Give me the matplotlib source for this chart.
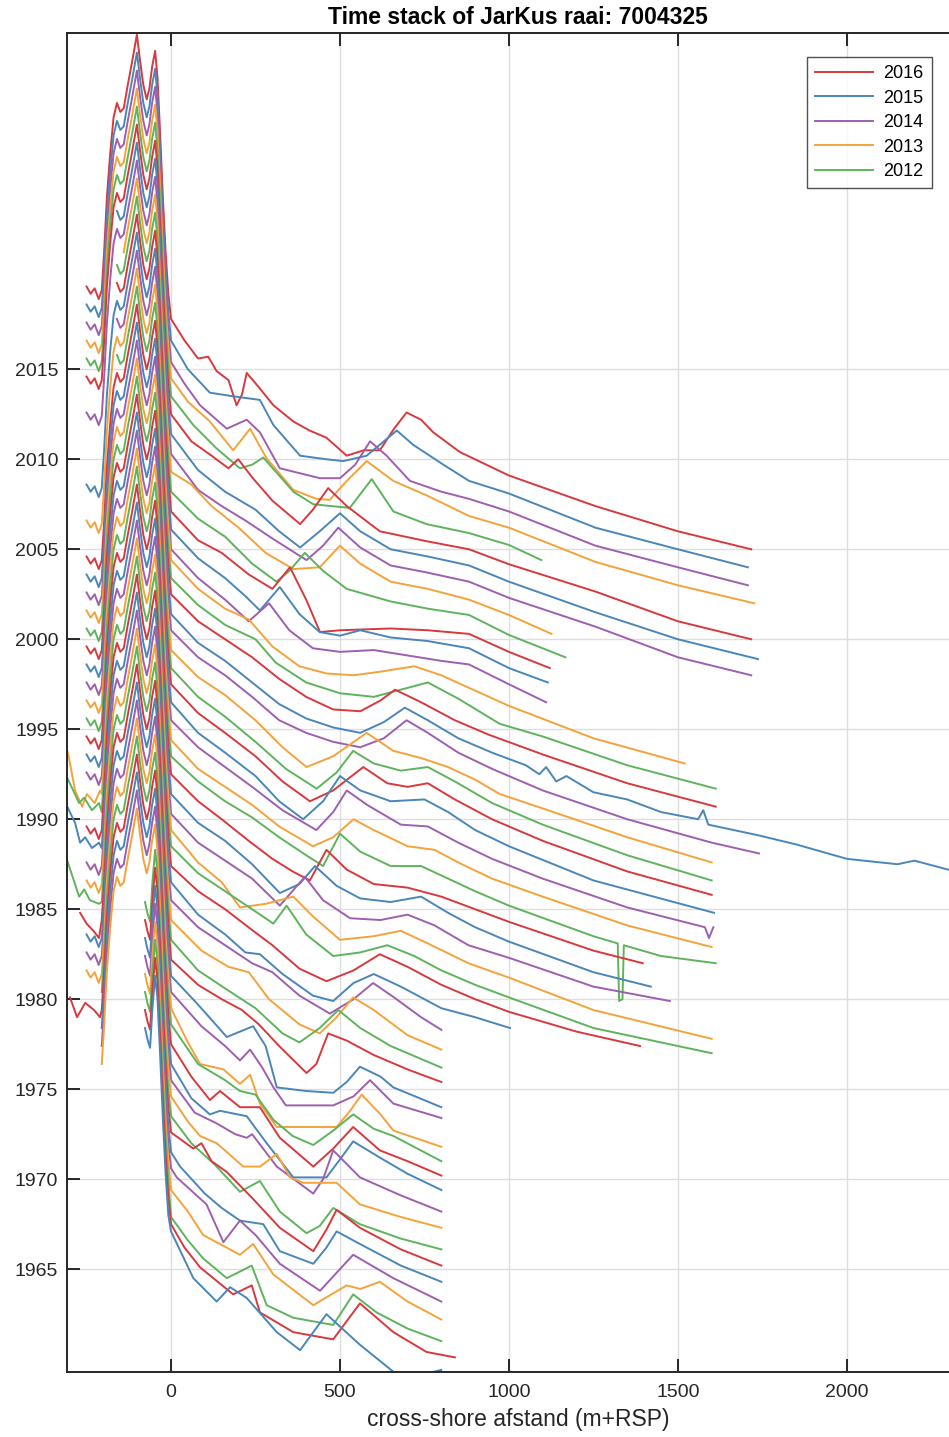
import numpy as np
import matplotlib.pyplot as plt

plt.rcParams['font.family'] = ['Liberation Sans', 'DejaVu Sans']

years = list(range(2016, 1964, -1))
colors_ = ['#d7393f', '#4a86b8', '#9d5fae', '#f4a33b', '#5fb35c']

dune_x = [-250, -238, -226, -214, -205, -198, -190, -180, -170, -160, -150, -140, -128,
          -116, -101, -92, -82, -72, -64, -56, -47, -40, -32, -24, -16, -8]
dune_z = [3.6, 3.2, 3.5, 2.9, 3.4, 5.5, 8.5, 11.0, 13.0, 13.8, 13.3, 13.5, 14.8,
          16.0, 17.6, 16.2, 14.8, 14.0, 14.6, 15.8, 16.7, 15.2, 12.0, 8.5, 5.5, 3.2]

# the oldest surveys only start in the dune valley
dune_old_x = [-77, -70, -62, -55, -47, -40, -32, -24, -16, -8]
dune_old_z = [13.4, 12.8, 12.3, 14.5, 16.3, 15.0, 11.8, 8.3, 5.3, 3.0]

# landward start of each survey (None = old dune part)
start_x = [-250, -250, -250, -250, -250, -250, -168, -250, -146, -168,   # 2016-2007
           -168, -250, -168, -250, -168, -250, -250, -250, -250, -250,   # 2006-1997
           -250, -250, -250, -250, -250, -250, -250, -250, -250, -250,   # 1996-1987
           -250, -250, -250, -250, -250, -250, -250, -250, -250, -210,   # 1986-1977
           -250, -210, -210, -210, None, None, None, None, None, None,   # 1976-1967
           None, None]                                                   # 1966-1965

# surveys reaching further landward
far_left = {
    1988: ([-307, -302, -284, -263, -249, -226, -210], [5.8, 5.4, 3.6, 2.7, 3.4, 2.9, 3.6]),
    1987: ([-307, -272, -257, -234, -213], [5.3, 3.9, 4.2, 3.5, 3.9]),
    1985: ([-307, -284, -269, -254, -234, -213], [5.7, 4.8, 3.7, 4.0, 3.4, 3.7]),
    1982: ([-307, -272, -257, -240, -213], [5.7, 3.7, 4.1, 3.5, 3.3]),
    1981: ([-269, -250, -230, -213], [3.8, 3.2, 2.8, 2.4]),
    1976: ([-299, -278, -254, -228, -210], [4.1, 3.0, 3.8, 3.4, 3.0]),
}

# seaward part (x, z) per year, 2016 first
sea_pts = [
    [(0,1.8),(40,0.6),(80,-0.4),(110,-0.3),(135,-1.1),(170,-1.6),(194,-3.0),(210,-2.4),(224,-1.2),(260,-2.0),(303,-3.0),(362,-3.9),(410,-4.4),(460,-4.8),(520,-5.8),(570,-5.5),(618,-5.5),(660,-4.3),(697,-3.4),(740,-3.8),(776,-4.5),(855,-5.6),(1000,-6.9),(1256,-8.6),(1500,-10.0),(1717,-11.0)],
    [(0,1.6),(50,0.0),(115,-1.3),(184,-1.5),(263,-1.7),(303,-3.1),(382,-4.8),(460,-5.0),(510,-5.1),(579,-4.8),(630,-4.0),(668,-3.4),(717,-4.2),(806,-5.3),(882,-6.2),(1000,-6.9),(1256,-8.8),(1500,-10.0),(1707,-11.0)],
    [(0,1.4),(40,0.2),(86,-1.0),(165,-2.3),(224,-1.8),(263,-2.5),(322,-4.5),(441,-5.05),(500,-5.05),(545,-4.3),(589,-3.0),(638,-3.8),(707,-5.2),(800,-5.8),(882,-6.2),(1000,-6.9),(1256,-8.8),(1500,-10.0),(1707,-11.0)],
    [(0,1.5),(50,0.2),(115,-0.9),(184,-2.5),(234,-1.3),(283,-2.95),(362,-4.7),(431,-5.2),(470,-5.25),(520,-4.2),(579,-3.1),(658,-4.2),(756,-5.0),(882,-6.15),(1000,-6.8),(1256,-8.7),(1500,-10.0),(1726,-11.0)],
    [(0,1.5),(66,-0.1),(135,-1.4),(204,-2.5),(240,-2.3),(273,-1.9),(362,-3.8),(421,-4.5),(529,-4.7),(594,-3.1),(658,-4.9),(756,-5.6),(882,-6.1),(1000,-6.76),(1096,-7.6)],
    [(0,1.5),(60,0.0),(120,-0.8),(170,-1.5),(199,-1.0),(240,-2.0),(300,-3.3),(382,-4.6),(420,-3.8),(465,-2.6),(520,-3.6),(618,-5.0),(756,-5.55),(882,-6.0),(1000,-6.83),(1256,-8.35),(1500,-10.0),(1717,-11.0)],
    [(0,1.4),(80,-0.6),(160,-1.8),(250,-2.8),(320,-4.0),(382,-4.9),(440,-4.0),(500,-3.0),(560,-4.0),(650,-5.0),(760,-5.4),(882,-5.9),(1000,-6.8),(1256,-8.5),(1500,-10.0),(1737,-11.1)],
    [(0,1.3),(80,-0.7),(150,-1.6),(220,-2.4),(300,-3.4),(401,-4.6),(450,-3.8),(495,-2.8),(560,-3.9),(650,-4.9),(760,-5.3),(882,-5.8),(1000,-6.7),(1256,-8.3),(1500,-10.0),(1717,-11.0)],
    [(0,1.3),(60,0.6),(120,-0.6),(200,-1.8),(280,-3.2),(362,-4.1),(440,-4.0),(500,-2.8),(560,-3.8),(650,-4.8),(760,-5.2),(882,-5.8),(1000,-6.65),(1126,-7.7)],
    [(0,1.2),(80,-0.3),(160,-1.3),(240,-2.8),(312,-3.8),(350,-3.2),(396,-2.2),(450,-3.2),(520,-4.2),(650,-4.9),(760,-5.3),(882,-5.65),(1000,-6.76),(1167,-8.0)],
    [(0,1.1),(80,-0.5),(150,-1.2),(230,-2.4),(300,-3.2),(352,-2.0),(400,-3.8),(441,-5.6),(500,-5.5),(650,-5.4),(760,-5.5),(882,-5.7),(1000,-6.7),(1121,-7.6)],
    [(0,1.1),(80,-0.5),(160,-1.6),(220,-2.6),(263,-3.4),(322,-2.1),(380,-3.6),(440,-4.6),(500,-4.8),(560,-4.5),(650,-4.9),(760,-5.1),(882,-5.5),(1000,-6.6),(1115,-7.4)],
    [(0,1.0),(80,-0.6),(160,-1.8),(230,-3.0),(290,-2.0),(350,-3.5),(420,-4.5),(500,-4.7),(600,-4.6),(700,-4.9),(800,-5.2),(882,-5.4),(1000,-6.5),(1110,-7.5)],
    [(0,1.4),(80,-0.2),(160,-1.3),(230,-1.9),(300,-3.4),(380,-4.5),(460,-4.9),(540,-5.0),(620,-4.8),(720,-4.5),(800,-5.0),(882,-5.7),(1000,-6.7),(1250,-8.5),(1520,-9.9)],
    [(0,1.4),(80,-0.1),(160,-1.2),(250,-2.0),(310,-3.3),(400,-4.4),(500,-5.0),(600,-5.2),(680,-4.8),(760,-4.4),(850,-5.3),(973,-6.7),(1100,-7.4),(1350,-9.0),(1612,-10.3)],
    [(0,1.5),(80,0.0),(160,-1.0),(240,-2.0),(320,-3.2),(400,-4.2),(480,-4.9),(560,-5.0),(620,-4.4),(663,-3.8),(740,-4.5),(840,-5.5),(940,-6.3),(1100,-7.4),(1350,-9.0),(1612,-10.3)],
    [(0,1.4),(80,-0.2),(160,-1.2),(240,-2.4),(320,-3.6),(400,-4.4),(480,-4.9),(560,-5.2),(630,-4.6),(692,-3.8),(760,-4.5),(850,-5.5),(950,-6.3),(1050,-7.0),(1090,-7.5),(1110,-7.1),(1140,-7.9),(1170,-7.6),(1250,-8.5),(1350,-8.9),(1450,-9.6),(1560,-10.0),(1575,-9.5),(1590,-10.3),(1740,-10.9),(1850,-11.4),(2000,-12.2),(2150,-12.5),(2200,-12.3),(2300,-12.8),(2360,-12.9)],
    [(0,1.5),(80,0.0),(160,-1.0),(240,-2.2),(320,-3.5),(400,-4.2),(480,-4.7),(560,-5.0),(630,-4.5),(697,-3.5),(760,-4.2),(850,-5.3),(950,-6.2),(1100,-7.4),(1350,-9.0),(1600,-10.3),(1740,-10.9)],
    [(0,1.4),(80,-0.1),(160,-1.1),(250,-2.5),(330,-4.0),(401,-5.1),(480,-4.5),(579,-3.2),(658,-4.2),(740,-4.6),(820,-5.1),(900,-5.8),(973,-6.6),(1100,-7.4),(1350,-9.0),(1600,-10.4)],
    [(0,1.4),(80,-0.2),(160,-1.3),(250,-2.7),(340,-4.2),(431,-5.3),(490,-4.4),(539,-3.2),(600,-3.9),(680,-4.3),(760,-4.1),(840,-4.9),(950,-6.1),(1100,-7.3),(1350,-9.0),(1600,-10.4)],
    [(0,1.5),(80,-0.1),(160,-1.2),(250,-2.5),(330,-3.9),(411,-5.0),(480,-4.4),(569,-3.1),(640,-4.0),(700,-4.2),(760,-4.0),(840,-4.9),(950,-6.0),(1100,-7.2),(1350,-8.9),(1600,-10.2)],
    [(0,1.5),(80,-0.2),(160,-1.3),(250,-2.6),(320,-4.0),(391,-5.0),(450,-4.0),(500,-2.6),(560,-3.4),(650,-4.0),(750,-3.9),(820,-4.6),(900,-5.6),(1000,-6.5),(1250,-8.4),(1607,-10.2)],
    [(0,1.5),(80,0.0),(160,-1.1),(240,-2.2),(330,-3.5),(430,-4.6),(480,-3.6),(520,-2.4),(580,-3.2),(680,-4.3),(760,-4.4),(850,-5.3),(950,-6.2),(1100,-7.3),(1350,-8.9),(1580,-10.0),(1592,-10.6),(1605,-10.0)],
    [(0,1.4),(80,-0.2),(160,-1.2),(240,-2.2),(320,-3.4),(420,-4.5),(480,-4.0),(540,-3.0),(600,-3.6),(700,-4.5),(780,-4.7),(850,-5.4),(950,-6.3),(1100,-7.3),(1350,-8.9),(1600,-10.1)],
    [(0,1.5),(80,0.1),(160,-1.0),(240,-1.9),(320,-3.0),(400,-4.0),(450,-4.6),(500,-2.8),(560,-3.8),(650,-4.6),(740,-4.6),(820,-5.3),(900,-6.0),(1000,-6.8),(1250,-8.5),(1322,-8.9),(1326,-12.1),(1336,-12.0),(1340,-9.0),(1450,-9.6),(1612,-10.0)],
    [(0,1.5),(80,0.0),(150,-1.0),(230,-2.2),(300,-3.2),(360,-3.9),(411,-4.4),(460,-2.7),(520,-3.8),(600,-4.6),(700,-4.8),(800,-5.3),(900,-6.0),(1000,-6.7),(1250,-8.3),(1396,-9.0)],
    [(0,1.4),(80,-0.2),(160,-1.2),(240,-2.5),(322,-4.1),(380,-3.6),(426,-2.6),(490,-3.7),(560,-4.4),(650,-4.6),(740,-4.3),(820,-5.2),(900,-6.0),(1000,-6.8),(1250,-8.5),(1420,-9.3)],
    [(0,1.3),(80,-0.3),(160,-1.3),(240,-2.3),(322,-3.8),(396,-2.2),(450,-3.5),(530,-4.5),(620,-4.6),(700,-4.3),(780,-4.9),(880,-6.0),(1000,-6.7),(1250,-8.3),(1476,-9.1)],
    [(0,1.4),(80,-0.4),(150,-1.5),(204,-2.9),(280,-2.7),(362,-2.3),(420,-3.4),(500,-4.7),(600,-4.5),(680,-4.2),(760,-4.9),(880,-6.0),(1000,-6.8),(1250,-8.6),(1600,-10.2)],
    [(0,1.5),(80,0.0),(160,-1.0),(240,-2.0),(303,-2.8),(342,-1.8),(400,-3.4),(480,-4.6),(560,-4.4),(640,-4.0),(720,-4.6),(800,-5.4),(900,-6.2),(1000,-6.9),(1250,-8.6),(1600,-10.0)],
    [(0,1.4),(80,0.0),(160,-1.0),(243,-2.2),(300,-3.0),(380,-4.3),(460,-5.0),(540,-4.4),(618,-3.5),(700,-4.2),(800,-5.2),(900,-6.0),(1000,-6.7),(1200,-7.8),(1388,-8.6)],
    [(0,1.5),(80,-0.3),(160,-1.4),(220,-2.4),(263,-2.5),(330,-3.6),(420,-4.8),(480,-5.1),(540,-4.1),(600,-3.6),(680,-4.3),(800,-5.5),(900,-6.0),(1003,-6.6)],
    [(0,1.5),(80,0.0),(160,-1.0),(240,-2.0),(300,-2.5),(380,-3.8),(470,-4.8),(540,-4.0),(598,-3.1),(660,-3.9),(740,-5.0),(800,-5.7)],
    [(0,1.4),(90,-0.3),(170,-1.2),(230,-1.5),(290,-3.0),(380,-4.4),(440,-4.9),(490,-4.0),(539,-2.9),(600,-3.6),(700,-5.0),(800,-5.8)],
    [(0,1.3),(80,-0.4),(160,-1.4),(250,-2.5),(330,-3.9),(380,-4.4),(440,-3.6),(495,-2.6),(560,-3.6),(650,-4.6),(800,-5.8)],
    [(0,1.2),(80,-0.2),(150,-1.0),(210,-1.6),(260,-2.4),(320,-3.6),(401,-5.1),(430,-4.6),(465,-2.9),(520,-3.3),(600,-4.1),(700,-4.9),(800,-5.6)],
    [(0,1.3),(80,-0.3),(165,-2.1),(243,-1.5),(280,-2.6),(313,-4.9),(400,-5.1),(480,-5.2),(520,-4.6),(559,-3.75),(620,-4.3),(658,-4.9),(800,-6.0)],
    [(0,1.4),(90,-0.5),(160,-1.6),(204,-2.4),(234,-1.8),(270,-2.8),(303,-3.9),(340,-4.9),(480,-4.9),(540,-4.4),(589,-3.5),(658,-4.8),(800,-5.6)],
    [(0,1.5),(50,-0.4),(86,-1.6),(155,-1.9),(204,-2.7),(234,-2.2),(263,-3.8),(313,-5.1),(490,-5.1),(530,-4.2),(564,-3.3),(620,-4.4),(658,-5.3),(800,-6.2)],
    [(0,1.6),(80,-0.6),(160,-1.5),(204,-2.1),(250,-2.3),(303,-3.7),(360,-4.6),(421,-5.1),(480,-4.3),(539,-3.4),(600,-4.2),(658,-4.6),(800,-6.0)],
    [(0,1.5),(60,-0.3),(115,-1.6),(145,-1.1),(204,-2.0),(263,-2.0),(322,-3.7),(421,-5.3),(480,-4.3),(539,-3.1),(618,-4.4),(700,-5.0),(800,-5.8)],
    [(0,1.4),(60,-0.5),(115,-1.4),(145,-1.2),(224,-1.5),(283,-3.0),(362,-4.9),(460,-4.9),(500,-3.9),(539,-2.9),(618,-3.8),(700,-4.7),(800,-5.6)],
    [(0,1.5),(70,-0.3),(135,-0.9),(190,-1.5),(224,-1.7),(240,-1.5),(313,-3.3),(421,-4.8),(450,-4.0),(480,-2.4),(559,-3.9),(680,-4.9),(800,-5.8)],
    [(0,1.6),(50,0.2),(86,-0.6),(135,-1.0),(214,-2.3),(263,-2.3),(313,-1.6),(352,-2.9),(391,-3.2),(490,-3.2),(559,-4.4),(680,-5.1),(800,-5.7)],
    [(0,1.5),(60,0.0),(130,-1.2),(204,-2.7),(263,-2.1),(322,-3.8),(401,-5.0),(440,-4.6),(480,-3.6),(559,-4.5),(680,-5.3),(800,-5.9)],
    [(0,1.6),(66,0.7),(90,1.0),(120,0.0),(165,-0.6),(243,-2.1),(322,-3.7),(421,-5.0),(460,-3.8),(490,-2.7),(559,-3.7),(680,-4.9),(800,-5.8)],
    [(0,1.5),(27,0.7),(100,-0.8),(150,-1.6),(204,-2.3),(273,-2.5),(322,-4.0),(421,-4.7),(460,-3.8),(490,-2.9),(559,-3.6),(680,-4.8),(800,-5.7)],
    [(0,1.6),(17,1.1),(105,-0.4),(155,-2.5),(204,-1.3),(250,-2.1),(322,-3.7),(441,-5.2),(490,-4.2),(539,-3.2),(658,-4.5),(800,-5.8)],
    [(0,1.4),(50,0.2),(95,-1.1),(204,-2.2),(243,-1.6),(303,-3.3),(421,-5.0),(520,-3.9),(560,-4.1),(618,-3.7),(700,-4.8),(800,-5.8)],
    [(0,0.9),(50,-0.4),(95,-1.4),(165,-2.5),(239,-1.8),(283,-4.0),(362,-4.7),(480,-5.1),(539,-3.4),(608,-4.4),(700,-5.3),(800,-6.0)],
    [(0,1.5),(40,0.2),(86,-0.9),(184,-2.4),(239,-1.9),(263,-3.4),(362,-4.5),(480,-4.9),(559,-2.9),(658,-4.5),(756,-5.6),(840,-5.9)],
    [(0,2.1),(66,-0.5),(135,-1.8),(175,-1.0),(224,-1.6),(313,-3.5),(382,-4.5),(460,-2.5),(559,-4.2),(658,-5.7),(720,-5.95),(800,-5.6)],
]

fig = plt.figure(figsize=(9.49, 14.37), dpi=100)
# axes runs past the right edge: the original picture is cropped there
ax = fig.add_axes([0.0709, 0.0454, 0.950, 0.9318])

dx = np.array(dune_x)
dz = np.array(dune_z)
for i, yr in enumerate(years):
    if yr in far_left:
        lx, lz = far_left[yr]
        keep = dx >= -205
        x = list(lx) + list(dx[keep])
        z = list(lz) + list(dz[keep])
    elif start_x[i] is None:
        x = list(dune_old_x)
        z = list(dune_old_z)
    else:
        keep = dx >= start_x[i]
        x = list(dx[keep])
        z = list(dz[keep])
    x += [p[0] for p in sea_pts[i]]
    z += [p[1] for p in sea_pts[i]]
    ax.plot(x, yr + np.array(z), color=colors_[i % 5], lw=1.4, label=str(yr))

ax.set_xlim(-307, 2361)
ax.set_ylim(1959.3, 2033.7)
ax.set_xticks([0, 500, 1000, 1500, 2000])
ax.set_yticks(range(1965, 2016, 5))
ax.grid(True, color='#dedede', linewidth=1.0)
ax.set_axisbelow(True)
ax.tick_params(direction='in', length=9.5, width=1.4, top=True, right=True,
               labelsize=14, colors='#262626')
ax.tick_params(axis='x', pad=9)
ax.tick_params(axis='y', pad=6.5)
for s in ax.spines.values():
    s.set_color('#262626')
    s.set_linewidth(1.4)

ax.set_xlabel('cross-shore afstand (m+RSP)', fontsize=16.5, color='#262626',
              labelpad=5)
ax.set_title('Time stack of JarKus raai: 7004325', fontsize=16.5,
             fontweight='bold', pad=6)

h, l = ax.get_legend_handles_labels()
leg = ax.legend(h[:5], l[:5], loc='upper right', bbox_to_anchor=(0.959, 0.982),
                borderaxespad=0, fontsize=13, frameon=True, fancybox=False,
                handlelength=3.2, borderpad=0.45, labelspacing=0.42,
                handletextpad=0.6)
leg.get_frame().set_edgecolor('#262626')
leg.get_frame().set_linewidth(1.0)

plt.savefig('out.png', dpi=100)
